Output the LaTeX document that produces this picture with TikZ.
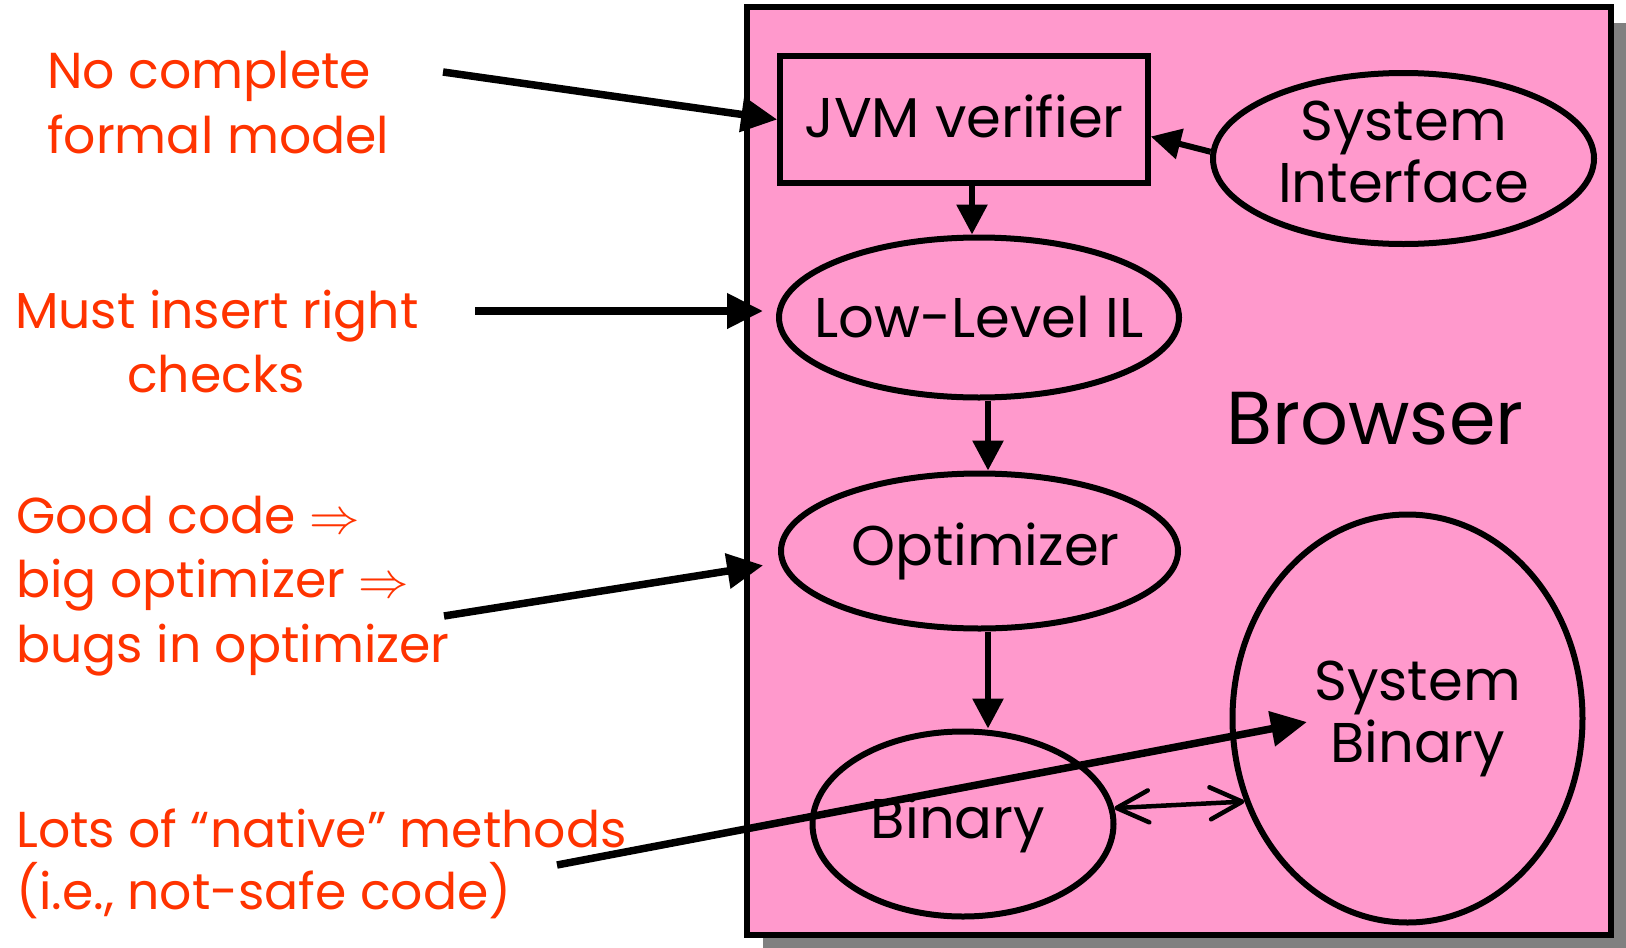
\RequirePackage{fix-cm}
\documentclass[tikz,border=0pt]{standalone}
\usepackage{fontspec}
\setmainfont{Poppins}
\usetikzlibrary{arrows.meta,shapes.geometric,calc}
\definecolor{notered}{RGB}{255,51,0}
\definecolor{browserpink}{RGB}{255,153,204}
\definecolor{shadowgray}{RGB}{128,128,128}
% zero-width box (optionally raised) so that an ellipse is sized only by its minimum size
\newcommand\zw[2][0pt]{\raisebox{#1}{\makebox[0pt]{#2}}}

\begin{document}
\begin{tikzpicture}[x=1pt,y=-1pt,
  note/.style={text=notered,font=\fontsize{50.5}{64}\selectfont,inner sep=0pt,anchor=base west},
  part/.style={draw,line width=6pt,fill=browserpink,font=\fontsize{56}{62}\selectfont,align=center,inner sep=0pt},
  oval/.style={part,ellipse},
  flow/.style={line width=6pt,-{Triangle[length=30pt,width=30pt]}},
  pointer/.style={line width=7.5pt,-{Triangle[length=36pt,width=34pt]}},
  link/.style={line width=4.5pt,{Straight Barb[length=32pt,width=32pt,round]}-{Straight Barb[length=32pt,width=32pt,round]}}]

\useasboundingbox (0,0) rectangle (1626,948);

% browser frame with its drop shadow
\fill[shadowgray] (763,23) rectangle (1640,960);
\draw[line width=6pt,fill=browserpink] (747,7) rectangle (1611,935);

% components
\node[part,minimum width=367.5pt,minimum height=127pt] (jvm) at (964,119.5) {\zw[6pt]{JVM verifier}};
\node[oval,minimum width=381pt,minimum height=171pt] (si) at (1403.5,158.5) {\zw[14pt]{System}\\\zw[14pt]{Interface}};
\node[oval,minimum width=400pt,minimum height=160pt] (llil) at (979,317.5) {\zw[2pt]{Low-Level IL}};
\node[oval,minimum width=397pt,minimum height=155pt] (opt) at (979.5,551) {\zw{\hspace{12pt}Optimizer}};
\node[oval,minimum width=301pt,minimum height=185pt] (bin) at (963,824) {\zw[-11pt]{Binary\hspace{10pt}}};
\node[oval,minimum width=350pt,minimum height=408pt] (sbin) at (1407.5,718.5) {\zw[-5pt]{\hspace{20pt}System}\\\zw[-5pt]{\hspace{20pt}Binary}};
\node[font=\fontsize{75}{80}\selectfont,inner sep=0pt] (browser) at (1375,419) {Browser};

% pipeline
\draw[flow] ([xshift=8pt]jvm.south) -- ([xshift=8pt]jvm.south |- llil.north);
\draw[flow] ([xshift=9pt]llil.south) -- ([xshift=9pt]llil.south |- opt.north);
\draw[flow] ([xshift=8.5pt]opt.south) -- ([xshift=8.5pt]opt.south |- bin.north);
\draw[flow] (si.178) -- ([yshift=-17pt]jvm.east);
\draw[link] (bin.6) -- (sbin.207);

% remarks
\node[note] (n1a) at (47,88) {No complete};
\node[note] (n1b) at (47,153) {formal model};
\node[note] (n2a) at (15,328) {Must insert right};
\node[note] (n2b) at (127,392) {checks};
\node[note] (n3a) at (16,533) {Good code $\Rightarrow$};
\node[note] (n3b) at (16,597) {big optimizer $\Rightarrow$};
\node[note] (n3c) at (16,662) {bugs in optimizer};
\node[note] (n4a) at (16,847) {Lots of “native” methods};
\node[note] (n4b) at (16,909) {(i.e., not-safe code)};

\coordinate (nofrom) at (443,72);
\coordinate (mustfrom) at (475,311);
\coordinate (goodfrom) at (444,616);
\coordinate (lotsfrom) at (557,865);
\coordinate (lotsto) at (1307,722);

\draw[pointer] (nofrom) -- (jvm.west);
\draw[pointer,shorten >=13pt] (mustfrom) -- (mustfrom -| llil.west);
\draw[pointer,shorten >=15pt] (goodfrom) -- ([yshift=-12pt]opt.west);
\draw[pointer] (lotsfrom) -- (lotsto);
\end{tikzpicture}
\end{document}
